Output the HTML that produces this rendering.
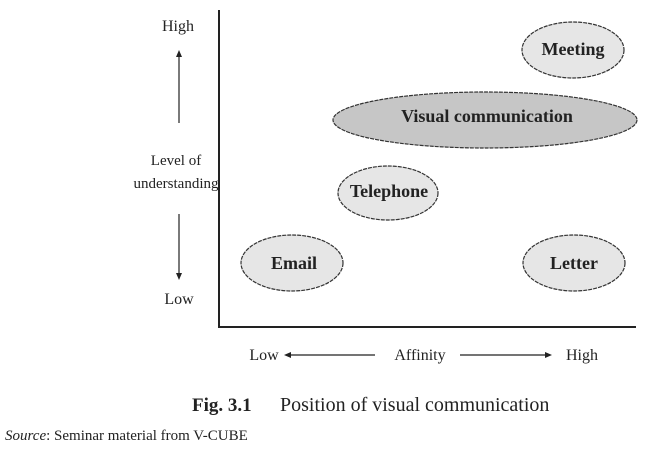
<!DOCTYPE html>
<html><head><style>body{margin:0;background:#fff}</style></head><body>
<svg width="645" height="445" xmlns="http://www.w3.org/2000/svg" font-family="Liberation Serif, serif" fill="#222">
<line x1="219" y1="10" x2="219" y2="328" stroke="#222" stroke-width="2"/>
<line x1="218" y1="327" x2="636" y2="327" stroke="#222" stroke-width="2"/>
<g stroke="#333" stroke-width="1.2" stroke-dasharray="4 1">
<ellipse cx="573" cy="50" rx="51" ry="28" fill="#e6e6e6"/>
<ellipse cx="485" cy="120" rx="152" ry="28" fill="#c6c6c6"/>
<ellipse cx="388" cy="193" rx="50" ry="27" fill="#e6e6e6"/>
<ellipse cx="292" cy="263" rx="51" ry="28" fill="#e6e6e6"/>
<ellipse cx="574" cy="263" rx="51" ry="28" fill="#e6e6e6"/>
</g>
<g font-weight="bold" font-size="18" text-anchor="middle">
<text x="573" y="55">Meeting</text>
<text x="487" y="122">Visual communication</text>
<text x="389" y="197">Telephone</text>
<text x="294" y="269">Email</text>
<text x="574" y="269">Letter</text>
</g>
<g font-size="16" text-anchor="middle">
<text x="178" y="31">High</text>
<text x="176" y="165" font-size="15">Level of</text>
<text x="176" y="188" font-size="15">understanding</text>
<text x="179" y="304">Low</text>
<text x="264" y="360">Low</text>
<text x="420" y="360">Affinity</text>
<text x="582" y="360">High</text>
</g>
<g stroke="#222" stroke-width="1.2">
<line x1="179" y1="55" x2="179" y2="123"/>
<line x1="179" y1="214" x2="179" y2="275"/>
<line x1="288" y1="355" x2="375" y2="355"/>
<line x1="460" y1="355" x2="548" y2="355"/>
</g>
<polygon points="179,50 176,57 182,57"/>
<polygon points="179,280 176,273 182,273"/>
<polygon points="284,355 291,352 291,358"/>
<polygon points="552,355 545,352 545,358"/>
<text x="192" y="411" font-size="19" font-weight="bold">Fig. 3.1</text>
<text x="280" y="411" font-size="20">Position of visual communication</text>
<text x="5" y="440" font-size="15"><tspan font-style="italic">Source</tspan>: Seminar material from V-CUBE</text>
</svg>
</body></html>
